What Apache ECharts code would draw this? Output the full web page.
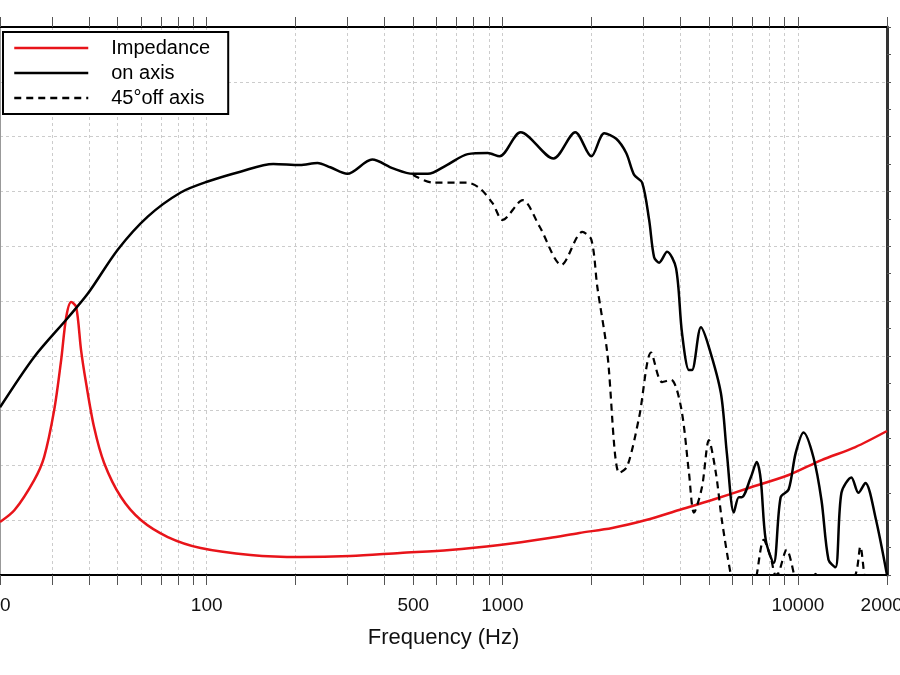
<!DOCTYPE html>
<html>
<head>
<meta charset="utf-8">
<script src="https://cdn.jsdelivr.net/npm/echarts@6/dist/echarts.min.js"></script>
<style>
html, body { margin: 0; padding: 0; background: #fff; }
#main { width: 900px; height: 675px; }
</style>
</head>
<body>
<div id="main"></div>
<script>
// frequencies in Hz, SPL in dB, impedance in ohm
var onAxisFreq = [20, 26.1, 34, 39.7, 50.1, 63.2, 81.7, 100.8, 130, 168, 207, 237, 262, 299, 363, 427, 499, 560, 649, 764, 892, 979, 1153, 1490, 1765, 2000, 2212, 2428, 2624, 2792, 2971, 3137, 3261, 3390, 3607, 3868, 4052, 4279, 4379, 4696, 4996, 5485, 5747, 6067, 6307, 6455, 6921, 7251, 7482, 7778, 8276, 8738, 9297, 9815, 10445, 11288, 12010, 12680, 13388, 14028, 15158, 16005, 16898, 18269, 20000];
var onAxisDb = [65.3, 69.9, 73.5, 75.7, 79.7, 82.7, 84.9, 85.9, 86.8, 87.5, 87.4, 87.6, 87.2, 86.6, 87.9, 87.1, 86.6, 86.6, 87.4, 88.4, 88.5, 88.2, 90.4, 88.0, 90.4, 88.2, 90.3, 89.8, 88.5, 86.5, 85.8, 82.4, 79.0, 78.5, 79.5, 78.0, 72.1, 68.7, 68.7, 72.6, 70.8, 66.6, 61.1, 55.7, 57.1, 57.1, 58.9, 60.3, 58.7, 53.2, 51.1, 57.1, 57.8, 61.1, 63.0, 60.7, 56.8, 51.4, 50.7, 57.5, 58.9, 57.5, 58.4, 55.3, 50.0];

var offAxisFreq = [499, 582, 758, 838, 928, 1002, 1171, 1336, 1585, 1865, 2000, 2095, 2264, 2485, 2645, 2902, 3186, 3470, 3721, 4021, 4279, 4448, 4733, 4996, 5276, 5528, 5928, 6600, 7251, 7658, 8086, 8405, 8603, 9155, 9665, 10500, 11464, 12500, 15636, 16255, 16767, 18000, 20000];
var offAxisDb = [86.5, 85.8, 85.8, 85.3, 83.9, 82.4, 84.2, 81.8, 78.3, 81.3, 80.6, 76.3, 70.3, 59.3, 59.9, 64.4, 70.3, 67.6, 67.8, 65.3, 59.3, 55.7, 58.0, 62.3, 59.3, 55.0, 50.0, 44, 50.0, 53.2, 51.6, 50.0, 50.2, 52.3, 50.2, 45, 50.1, 45, 50.0, 52.6, 50.0, 45, 45];

var impFreq = [20, 22.4, 26.1, 28.2, 30.5, 32.2, 33.5, 34.8, 36.2, 37.6, 39.1, 41.6, 45.0, 51.3, 59.9, 73.9, 95.4, 140.7, 207, 306, 451, 664, 979, 1443, 1822, 2354, 3064, 3959, 5114, 6815, 9297, 12010, 15636, 20000];
var impOhm = [3.87, 4.74, 6.93, 8.61, 12.04, 15.69, 18.83, 19.93, 19.56, 16.42, 14.01, 10.80, 8.18, 5.69, 4.01, 2.77, 1.97, 1.46, 1.31, 1.39, 1.61, 1.82, 2.19, 2.70, 3.07, 3.43, 4.01, 4.74, 5.47, 6.35, 7.30, 8.39, 9.34, 10.51];

var labelFreqs = [20, 100, 500, 1000, 10000, 20000];
var tickFreqs = [20, 30, 40, 50, 60, 70, 80, 90, 100, 200, 300, 400, 500, 600, 700, 800, 900,
  1000, 2000, 3000, 4000, 5000, 6000, 7000, 8000, 9000, 10000, 20000];

function lg(f) { return Math.log10(f); }
function pairs(fs, vs) {
  return fs.map(function (f, i) { return [lg(f), vs[i]]; });
}

var font = 'Liberation Sans, Arial, sans-serif';

var option = {
  backgroundColor: '#fff',
  animation: false,
  grid: { left: 0, right: 13, top: 27, bottom: 100, containLabel: false, outerBoundsMode: 'none' },
  legend: {
    orient: 'vertical',
    left: 3,
    top: 32,
    padding: [6, 18, 6, 10],
    itemGap: 5,
    itemWidth: 74,
    itemHeight: 14,
    borderColor: '#000',
    borderWidth: 2,
    backgroundColor: '#fff',
    itemStyle: { opacity: 0 },
    lineStyle: { width: 2.5 },
    textStyle: { fontSize: 20, fontFamily: font, color: '#000', padding: [0, 0, 0, 18] },
    data: ['Impedance', 'on axis', '45°off axis']
  },
  xAxis: [{
    type: 'value',
    position: 'bottom',
    min: lg(20),
    max: lg(20000),
    name: 'Frequency (Hz)',
    nameLocation: 'middle',
    nameGap: 52,
    nameTextStyle: { fontSize: 22, fontFamily: font, color: '#111' },
    axisLine: { show: true, lineStyle: { color: '#000', width: 2 } },
    axisTick: { show: true, length: 10, lineStyle: { color: '#555' }, customValues: tickFreqs.map(lg) },
    axisLabel: {
      fontSize: 19, fontFamily: font, color: '#111', margin: 21,
      customValues: labelFreqs.map(lg),
      formatter: function (v) { return String(Math.round(Math.pow(10, v))); }
    },
    splitLine: { show: true, lineStyle: { color: '#ccc', type: [3, 3], width: 1 } }
  }, {
    type: 'value',
    position: 'top',
    min: lg(20),
    max: lg(20000),
    axisLine: { show: true, lineStyle: { color: '#000', width: 2 } },
    axisTick: { show: true, length: 10, lineStyle: { color: '#555' }, customValues: tickFreqs.map(lg) },
    axisLabel: { show: false },
    splitLine: { show: false }
  }],
  yAxis: [{
    type: 'value',
    min: 50,
    max: 100,
    interval: 5,
    axisLine: { show: true, lineStyle: { color: '#999', width: 1 } },
    axisTick: { show: false },
    axisLabel: { show: false },
    splitLine: { show: true, lineStyle: { color: '#ccc', type: [3, 3], width: 1 } }
  }, {
    type: 'value',
    position: 'right',
    min: 0,
    max: 40,
    interval: 2,
    axisLine: { show: true, lineStyle: { color: '#333', width: 3 } },
    axisTick: { show: true, length: 4, lineStyle: { color: '#555' } },
    axisLabel: { show: false },
    splitLine: { show: false }
  }],
  series: [{
    name: 'Impedance',
    type: 'line',
    yAxisIndex: 1,
    symbol: 'none',
    smooth: 0.3,
    lineStyle: { color: '#e8141a', width: 2.5 },
    itemStyle: { color: '#e8141a' },
    data: pairs(impFreq, impOhm)
  }, {
    name: 'on axis',
    type: 'line',
    symbol: 'none',
    smooth: 0.3,
    lineStyle: { color: '#000', width: 2.5 },
    itemStyle: { color: '#000' },
    data: pairs(onAxisFreq, onAxisDb)
  }, {
    name: '45°off axis',
    type: 'line',
    symbol: 'none',
    smooth: 0.3,
    lineStyle: { color: '#000', width: 2.2, type: [7, 5] },
    itemStyle: { color: '#000' },
    data: pairs(offAxisFreq, offAxisDb)
  }]
};

var myChart = echarts.init(document.getElementById('main'));
myChart.setOption(option);
</script>
</body>
</html>
